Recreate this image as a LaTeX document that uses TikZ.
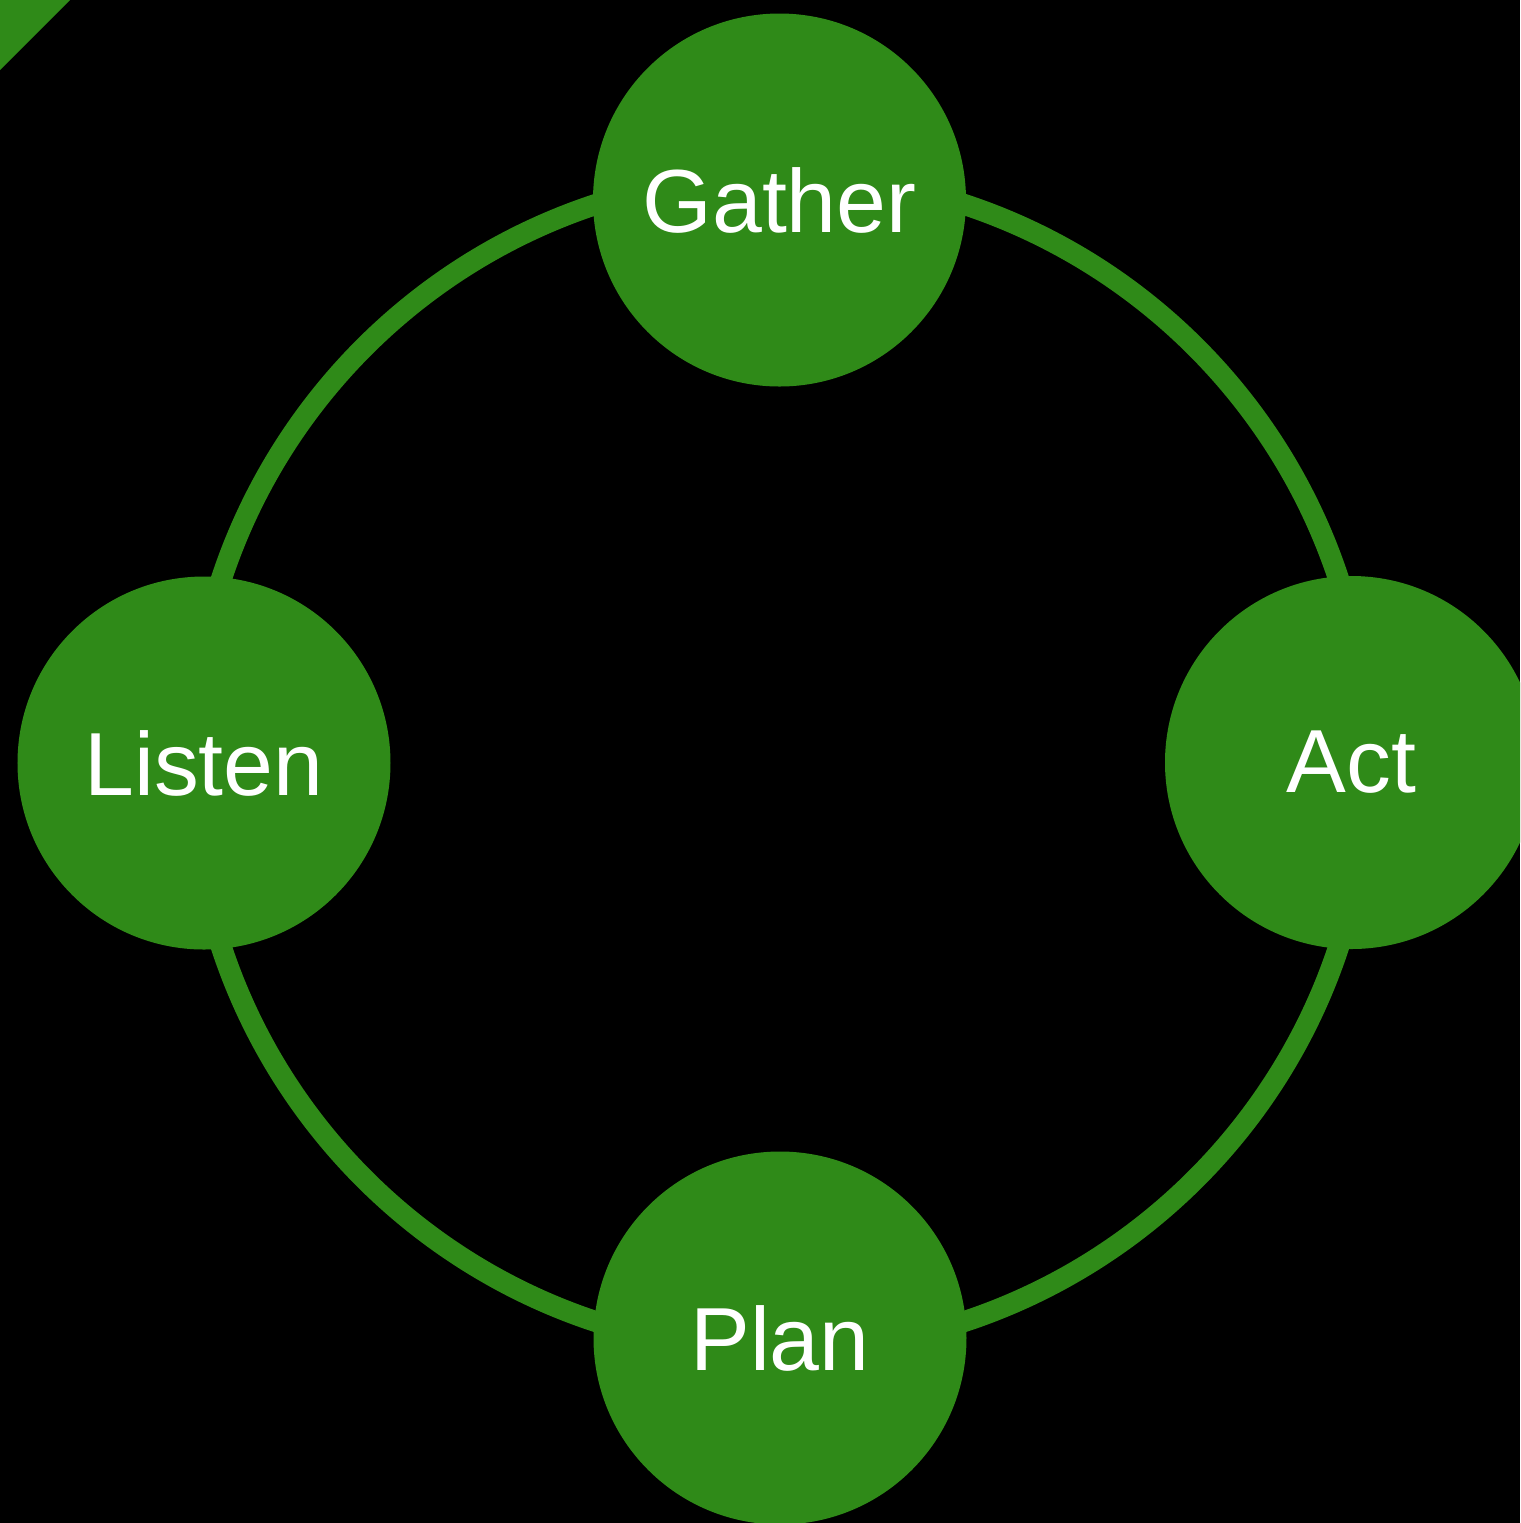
\documentclass[tikz,border=0pt]{standalone}
\usepackage{fontspec}
\setmainfont{Liberation Sans}
\definecolor{leafgreen}{RGB}{47,138,24}
\tikzset{
	stage/.style={circle, fill=leafgreen, draw=none, inner sep=0pt, minimum size=3.73cm,
		text=white, font=\fontsize{25.5}{30}\selectfont},
	ring/.style={draw=leafgreen, line width=0.21cm},
}

\begin{document}
\begin{tikzpicture}
\useasboundingbox (0,0) rectangle (15.2,-15.23);
\clip (0,0) rectangle (15.2,-15.23);
\fill[black] (0,0) rectangle (15.2,-15.23);
\fill[leafgreen] (0,0)--(0.7,0)--(0,-0.7)--cycle;
% the cycle ring behind the four stages
\coordinate (hub) at (7.80,-7.63);
\draw[ring] (hub) circle (5.88);
\node[stage] (gather) at (7.795,-2.00) {Gather};
\node[stage] (act) at (13.515,-7.625) {Act};
\node[stage] (plan) at (7.80,-13.38) {Plan};
\node[stage] (listen) at (2.04,-7.63) {Listen};
\end{tikzpicture}
\end{document}
